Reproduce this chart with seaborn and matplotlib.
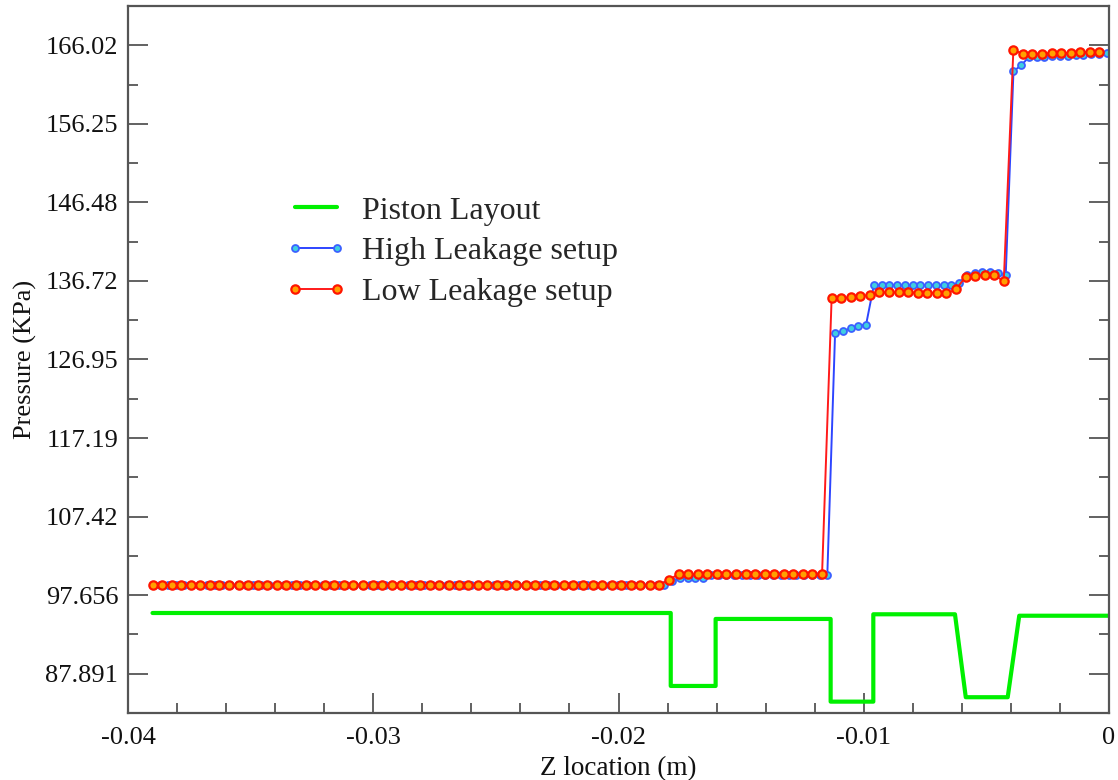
import numpy as np
import matplotlib
matplotlib.use("Agg")
import matplotlib.pyplot as plt
from matplotlib.ticker import FixedLocator, MultipleLocator
import seaborn as sns

# ---- data -------------------------------------------------------------
# Piston layout outline (corner points, z in m, pressure-scale in KPa)
piston_z = [-0.0390, -0.01787, -0.01787, -0.01604, -0.01604, -0.01135, -0.01135,
            -0.00961, -0.00961, -0.00628, -0.00584, -0.00413, -0.00366, 0.0]
piston_p = [95.44, 95.44, 86.37, 86.37, 94.70, 94.70, 84.42,
            84.42, 95.28, 95.28, 84.97, 84.97, 95.10, 95.10]

# Low leakage setup: 100 stations from z = -0.039 m to z = -0.00039 m
low_z = np.linspace(-0.039, -0.00039, 100)
low_p = [
    98.92, 98.92, 98.92, 98.92, 98.92, 98.92, 98.92, 98.92, 98.92, 98.92,
    98.92, 98.92, 98.92, 98.92, 98.92, 98.92, 98.92, 98.92, 98.92, 98.92,
    98.92, 98.92, 98.92, 98.92, 98.92, 98.92, 98.92, 98.92, 98.92, 98.92,
    98.92, 98.92, 98.92, 98.92, 98.92, 98.92, 98.92, 98.92, 98.92, 98.92,
    98.92, 98.92, 98.92, 98.92, 98.92, 98.92, 98.92, 98.92, 98.92, 98.92,
    98.92, 98.92, 98.92, 98.92, 99.60, 100.25, 100.25, 100.25, 100.25, 100.25,
    100.25, 100.25, 100.25, 100.25, 100.25, 100.25, 100.25, 100.25, 100.25, 100.25,
    100.25, 134.58, 134.58, 134.70, 134.79, 134.99, 135.29, 135.29, 135.29, 135.29,
    135.25, 135.25, 135.25, 135.17, 135.66, 137.23, 137.31, 137.44, 137.44, 136.69,
    165.39, 164.98, 164.98, 164.98, 165.06, 165.06, 165.06, 165.14, 165.18, 165.23,
]

# High leakage setup: 124 stations from z = -0.039 m to z = -0.0001 m
high_z = np.linspace(-0.039, -0.0001, 124)
high_p = [
    98.95, 98.95, 98.95, 98.95, 98.95, 98.95, 98.95, 98.95, 98.95, 98.95,
    98.95, 98.95, 98.95, 98.95, 98.95, 98.95, 98.95, 98.95, 98.95, 98.95,
    98.95, 98.95, 98.95, 98.95, 98.95, 98.95, 98.95, 98.95, 98.95, 98.95,
    98.95, 98.95, 98.95, 98.95, 98.95, 98.95, 98.95, 98.95, 98.95, 98.95,
    98.95, 98.95, 98.95, 98.95, 98.95, 98.95, 98.95, 98.95, 98.95, 98.95,
    98.95, 98.95, 98.95, 98.95, 98.95, 98.95, 98.95, 98.95, 98.95, 98.95,
    98.95, 98.95, 98.95, 98.95, 98.95, 98.95, 98.95, 99.40, 99.75, 99.75,
    99.75, 99.75, 100.20, 100.20, 100.20, 100.20, 100.20, 100.20, 100.20, 100.20,
    100.20, 100.20, 100.20, 100.20, 100.20, 100.20, 100.20, 100.20, 130.23, 130.48,
    130.82, 131.10, 131.30, 136.20, 136.20, 136.20, 136.20, 136.20, 136.20, 136.20,
    136.20, 136.20, 136.20, 136.20, 136.48, 137.44, 137.72, 137.85, 137.85, 137.72,
    137.44, 162.79, 163.53, 164.56, 164.56, 164.56, 164.65, 164.69, 164.74, 164.81,
    164.81, 164.90, 164.98, 165.06,
]

# Axis ticks and labels
x_ticks = [-0.04, -0.03, -0.02, -0.01, 0.0]
x_tick_labels = ["-0.04", "-0.03", "-0.02", "-0.01", "0"]
y_ticks = [87.890625, 97.65625, 107.421875, 117.1875, 126.953125,
           136.71875, 146.484375, 156.25, 166.015625]
y_tick_labels = ["87.891", "97.656", "107.42", "117.19", "126.95",
                 "136.72", "146.48", "156.25", "166.02"]

# ---- style ------------------------------------------------------------
sns.set_theme(style="white")
plt.rcParams["font.family"] = ["Liberation Serif", "DejaVu Serif"]
plt.rcParams["axes.unicode_minus"] = False

frame_color = "#555555"

fig = plt.figure(figsize=(11.18, 7.80), dpi=100)
ax = fig.add_axes([128 / 1118, 67 / 780, 981 / 1118, 707 / 780])

sns.lineplot(x=piston_z, y=piston_p, ax=ax, color="#00f000", linewidth=3.0,
             sort=False, estimator=None, label="Piston Layout")
sns.lineplot(x=high_z, y=high_p, ax=ax, color="#2d45ff", linewidth=1.4,
             marker="o", markersize=5.0, markerfacecolor="#3fcfe0",
             markeredgecolor="#3a60ff", markeredgewidth=1.3,
             sort=False, estimator=None, label="High Leakage setup")
sns.lineplot(x=low_z, y=low_p, ax=ax, color="#ff1a1a", linewidth=1.4,
             marker="o", markersize=6.0, markerfacecolor="#ffa000",
             markeredgecolor="#ff1500", markeredgewidth=1.6,
             sort=False, estimator=None, label="Low Leakage setup")

ax.set_xlim(-0.04, 0.0)
ax.set_ylim(83.0078125, 170.8984375)

ax.xaxis.set_major_locator(FixedLocator(x_ticks))
ax.set_xticklabels(x_tick_labels)
ax.xaxis.set_minor_locator(MultipleLocator(0.002))
ax.yaxis.set_major_locator(FixedLocator(y_ticks))
ax.set_yticklabels(y_tick_labels)
ax.yaxis.set_minor_locator(MultipleLocator(9.765625 / 2))

ax.tick_params(axis="both", which="both", direction="in", color=frame_color,
               width=1.3, labelsize=19, labelcolor="#111111")
ax.tick_params(axis="both", which="major", length=14.5)
ax.tick_params(axis="y", which="major", pad=7)
ax.tick_params(axis="x", which="major", pad=10)
ax.tick_params(axis="both", which="minor", length=7.5)
ax.tick_params(axis="y", which="both", left=True, right=True)
ax.tick_params(axis="x", which="both", bottom=True, top=False)

for side in ("left", "right", "top", "bottom"):
    ax.spines[side].set_visible(True)
    ax.spines[side].set_color(frame_color)
    ax.spines[side].set_linewidth(1.6)

ax.set_xlabel("Z location (m)", fontsize=19.5, color="#111111", labelpad=5)
ax.set_ylabel("Pressure (KPa)", fontsize=19, color="#111111", labelpad=6)

ax.legend(loc="upper left", bbox_to_anchor=(0.1605, 0.731), frameon=False,
          fontsize=23, handlelength=1.9, handletextpad=0.49,
          labelspacing=0.36, borderpad=0, borderaxespad=0, numpoints=2)

fig.savefig("out.png", dpi=100)
